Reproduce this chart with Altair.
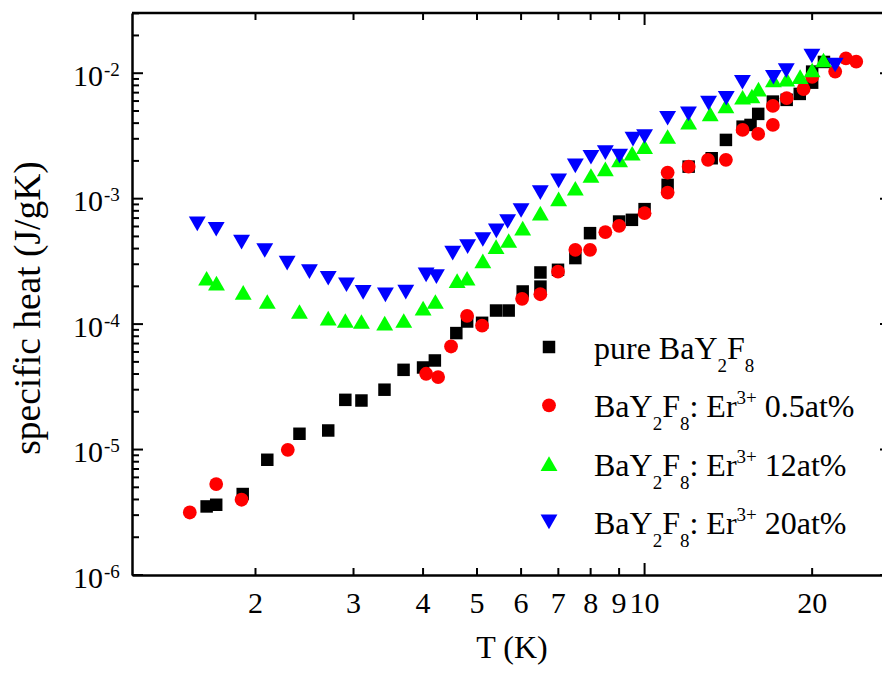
import altair as alt
import pandas as pd

# ---- measured specific heat, C (J/gK) versus temperature T (K) ----
t_pure = [1.634, 1.700, 1.897, 2.100, 2.399, 2.702, 2.90, 3.10, 3.41, 3.69, 4.00, 4.20,
          4.59, 4.80, 5.106, 5.41, 5.70, 6.04, 6.50, 6.50, 6.99, 7.51, 7.98, 9.0, 9.49,
          10.0, 11.0, 12.0, 13.2, 14.0, 15.0, 15.5, 16.0, 17.0, 18.0, 19.0, 20.0, 20.0, 21.0]
c_pure = [3.52e-6, 3.63e-6, 4.42e-6, 8.29e-6, 1.336e-5, 1.419e-5, 2.49e-5, 2.46e-5, 3.00e-5,
          4.32e-5, 4.51e-5, 5.13e-5, 8.48e-5, 1.049e-4, 1.024e-4, 1.283e-4, 1.283e-4, 1.82e-4,
          2.58e-4, 1.99e-4, 2.71e-4, 3.36e-4, 5.31e-4, 6.57e-4, 6.78e-4, 8.25e-4, 1.288e-3,
          1.80e-3, 2.10e-3, 2.94e-3, 3.75e-3, 3.87e-3, 4.74e-3, 5.94e-3, 6.13e-3, 6.84e-3,
          8.41e-3, 1.03e-2, 1.23e-2]

t_er05 = [1.524, 1.700, 1.888, 2.286, 4.051, 4.257, 4.491, 4.799, 5.106, 6.025, 6.497, 6.99,
          7.509, 7.98, 8.502, 9.0, 10.0, 11.0, 11.0, 12.0, 13.0, 14.0, 15.0, 16.0, 17.0, 17.0,
          18.0, 19.3, 20.0, 22.0, 23.0, 24.0]
c_er05 = [3.15e-6, 5.31e-6, 3.98e-6, 9.96e-6, 4.02e-5, 3.78e-5, 6.63e-5, 1.164e-4, 9.74e-5,
          1.59e-4, 1.73e-4, 2.62e-4, 3.91e-4, 3.91e-4, 5.41e-4, 6.07e-4, 7.66e-4, 1.614e-3,
          1.118e-3, 1.80e-3, 2.04e-3, 2.04e-3, 3.53e-3, 3.28e-3, 3.87e-3, 5.49e-3, 6.32e-3,
          7.46e-3, 9.34e-3, 1.03e-2, 1.312e-2, 1.237e-2]

t_er12 = [1.634, 1.702, 1.901, 2.100, 2.399, 2.702, 2.90, 3.10, 3.413, 3.693, 4.001, 4.209,
          4.605, 4.799, 5.122, 5.41, 5.70, 6.04, 6.497, 7.008, 7.509, 8.011, 8.502, 9.018,
          9.50, 10.0, 11.0, 12.0, 13.12, 14.0, 15.0, 15.59, 16.02, 17.04, 18.0, 19.03, 20.0, 20.96]
c_er12 = [2.32e-4, 2.12e-4, 1.79e-4, 1.514e-4, 1.26e-4, 1.117e-4, 1.068e-4, 1.049e-4, 1.019e-4,
          1.068e-4, 1.341e-4, 1.514e-4, 2.22e-4, 2.32e-4, 3.19e-4, 4.15e-4, 4.64e-4, 5.82e-4,
          7.66e-4, 9.96e-4, 1.212e-3, 1.528e-3, 1.728e-3, 2.04e-3, 2.30e-3, 2.60e-3, 3.13e-3,
          4.07e-3, 4.74e-3, 5.49e-3, 6.44e-3, 6.59e-3, 7.46e-3, 8.84e-3, 8.96e-3, 9.39e-3,
          1.062e-2, 1.276e-2]

t_er20 = [1.572, 1.700, 1.888, 2.078, 2.280, 2.500, 2.702, 2.914, 3.122, 3.423, 3.724, 4.051,
          4.227, 4.522, 4.810, 5.122, 5.417, 5.675, 6.000, 6.497, 7.008, 7.509, 8.011, 8.502,
          9.018, 9.533, 10.0, 11.0, 11.99, 13.03, 14.02, 14.99, 17.04, 17.97, 19.98, 22.0]
c_er20 = [6.30e-4, 5.71e-4, 4.50e-4, 3.86e-4, 3.06e-4, 2.62e-4, 2.32e-4, 2.06e-4, 1.79e-4,
          1.71e-4, 1.80e-4, 2.47e-4, 2.39e-4, 3.68e-4, 4.15e-4, 4.73e-4, 5.54e-4, 6.57e-4,
          8.04e-4, 1.118e-3, 1.386e-3, 1.825e-3, 2.14e-3, 2.33e-3, 2.19e-3, 2.98e-3, 3.13e-3,
          4.38e-3, 4.74e-3, 5.77e-3, 6.32e-3, 8.48e-3, 9.29e-3, 1.049e-2, 1.373e-2, 1.164e-2]

# ---- axis ticks and labels ----
x_label_vals = [2, 3, 4, 5, 6, 7, 8, 9, 10, 20]
x_major_ticks = [10]
x_minor_ticks = [2, 3, 4, 5, 6, 7, 8, 9, 20]
y_decades = [1e-6, 1e-5, 1e-4, 1e-3, 1e-2]
y_exponents = ["-6", "-5", "-4", "-3", "-2"]

# ---- legend entries (text runs: normal / subscript / superscript) ----
legend_runs = [
    [("pure BaY", "n"), ("2", "sub"), ("F", "n"), ("8", "sub")],
    [("BaY", "n"), ("2", "sub"), ("F", "n"), ("8", "sub"), (": Er", "n"), ("3+", "sup"), (" 0.5at%", "n")],
    [("BaY", "n"), ("2", "sub"), ("F", "n"), ("8", "sub"), (": Er", "n"), ("3+", "sup"), (" 12at%", "n")],
    [("BaY", "n"), ("2", "sub"), ("F", "n"), ("8", "sub"), (": Er", "n"), ("3+", "sup"), (" 20at%", "n")],
]

FONT = "Liberation Serif"
W, H = 750, 562
X_DOMAIN = [1.2, 26.7]
Y_DOMAIN = [1e-6, 0.0302]

xs = alt.Scale(type="log", domain=X_DOMAIN, nice=False)
ys = alt.Scale(type="log", domain=Y_DOMAIN, nice=False)
x_axis = alt.Axis(domain=True, domainColor="black", domainWidth=2.5, ticks=False,
                  labels=False, grid=False, title=None)
y_axis = alt.Axis(domain=True, domainColor="black", domainWidth=2.5, ticks=False,
                  labels=False, grid=False, title=None)

one = pd.DataFrame({"k": [0]})
layers = []

# top frame line
layers.append(alt.Chart(one).mark_rule(color="black", strokeWidth=2.5).encode(
    x=alt.value(0), x2=alt.value(W), y=alt.value(0)))


def xticks(vals, length):
    df = pd.DataFrame({"v": vals})
    bottom = alt.Chart(df).mark_rule(color="black", strokeWidth=2).encode(
        x=alt.X("v:Q", scale=xs, axis=x_axis), y=alt.value(H), y2=alt.value(H - length))
    top = alt.Chart(df).mark_rule(color="black", strokeWidth=2).encode(
        x=alt.X("v:Q", scale=xs, axis=x_axis), y=alt.value(0), y2=alt.value(length))
    return [bottom, top]


def yticks(vals, length):
    df = pd.DataFrame({"v": vals})
    return alt.Chart(df).mark_rule(color="black", strokeWidth=2).encode(
        y=alt.Y("v:Q", scale=ys, axis=y_axis), x=alt.value(0), x2=alt.value(length))


layers += xticks(x_major_ticks, 12)
layers += xticks(x_minor_ticks, 7)
y_minor = [m * d for d in y_decades for m in range(2, 10) if m * d <= Y_DOMAIN[1]]
layers.append(yticks(y_decades, 11))
layers.append(yticks(y_minor, 7))
# right-hand major ticks, only their ends fall inside the page
layers.append(alt.Chart(pd.DataFrame({"v": y_decades})).mark_rule(color="black", strokeWidth=2).encode(
    y=alt.Y("v:Q", scale=ys, axis=y_axis), x=alt.value(W - 2), x2=alt.value(W)))

# tick labels
xl = pd.DataFrame({"v": x_label_vals, "s": [str(v) for v in x_label_vals]})
layers.append(alt.Chart(xl).mark_text(font=FONT, fontSize=30, align="center", baseline="alphabetic",
                                      color="black").encode(
    x=alt.X("v:Q", scale=xs, axis=x_axis), y=alt.value(H + 38), text="s:N"))
yl = pd.DataFrame({"v": y_decades, "e": y_exponents, "b": ["10"] * len(y_decades)})
layers.append(alt.Chart(yl).mark_text(font=FONT, fontSize=30, align="right", baseline="alphabetic",
                                      dy=12.7, color="black").encode(
    y=alt.Y("v:Q", scale=ys, axis=y_axis), x=alt.value(-29), text="b:N"))
layers.append(alt.Chart(yl).mark_text(font=FONT, fontSize=19, align="left", baseline="alphabetic",
                                      dy=2.7, color="black").encode(
    y=alt.Y("v:Q", scale=ys, axis=y_axis), x=alt.value(-28), text="e:N"))

# axis titles
layers.append(alt.Chart(one).mark_text(text="T (K)", font=FONT, fontSize=32, align="center",
                                       baseline="alphabetic", color="black").encode(
    x=alt.value(380), y=alt.value(H + 83)))
layers.append(alt.Chart(one).mark_text(text="specific heat (J/gK)", font=FONT, fontSize=37.5, angle=270,
                                       align="center", baseline="alphabetic", color="black").encode(
    x=alt.value(-92), y=alt.value(295)))

# data series
series = [
    (t_pure, c_pure, "square", "#000000", 156),
    (t_er05, c_er05, "circle", "#ff0000", 190),
    (t_er12, c_er12, "triangle-up", "#00ff00", 285),
    (t_er20, c_er20, "triangle-down", "#0000ff", 285),
]
for T, C, shape, color, size in series:
    df = pd.DataFrame({"T": T, "C": C})
    layers.append(alt.Chart(df).mark_point(shape=shape, filled=True, color=color, size=size,
                                           opacity=1, strokeWidth=0).encode(
        x=alt.X("T:Q", scale=xs, axis=x_axis), y=alt.Y("C:Q", scale=ys, axis=y_axis)))

# legend: each run is placed after the previous one using Times-compatible advance widths
CHAR_W = {"p": 500, "u": 500, "r": 333, "e": 444, " ": 250, "B": 667, "a": 444,
          "Y": 722, "F": 556, ":": 278, "E": 611, ".": 250, "t": 278, "%": 833, "+": 564}


def run_width(s, size):
    return sum(CHAR_W.get(c, 500) for c in s) * size / 1000.0


LEG_MARK_X, LEG_TEXT_X, LEG_Y0, LEG_STEP = 417, 462, 334, 58.3
MAIN_FS, SMALL_FS = 32, 19
for i, runs in enumerate(legend_runs):
    ry = LEG_Y0 + i * LEG_STEP
    _, _, shape, color, size = series[i]
    layers.append(alt.Chart(one).mark_point(shape=shape, filled=True, color=color, size=size,
                                            opacity=1, strokeWidth=0).encode(
        x=alt.value(LEG_MARK_X), y=alt.value(ry)))
    base = ry + 12
    xc = LEG_TEXT_X
    for txt, kind in runs:
        fs = MAIN_FS if kind == "n" else SMALL_FS
        off = {"n": 0, "sub": 13, "sup": -13}[kind]
        body = txt.lstrip(" ")
        xc += run_width(txt[: len(txt) - len(body)], fs)  # leading blanks become a gap
        layers.append(alt.Chart(one).mark_text(text=body, font=FONT, fontSize=fs, align="left",
                                               baseline="alphabetic", color="black").encode(
            x=alt.value(xc), y=alt.value(base + off)))
        xc += run_width(body, fs)

chart = alt.layer(*layers).properties(
    width=W, height=H,
    padding={"left": 132, "top": 13, "right": 0, "bottom": 98},
    autosize=alt.AutoSizeParams(type="none"),
    background="white",
).configure_view(stroke=None)

chart.save("out.html", embed_options={"renderer": "svg", "actions": False})
